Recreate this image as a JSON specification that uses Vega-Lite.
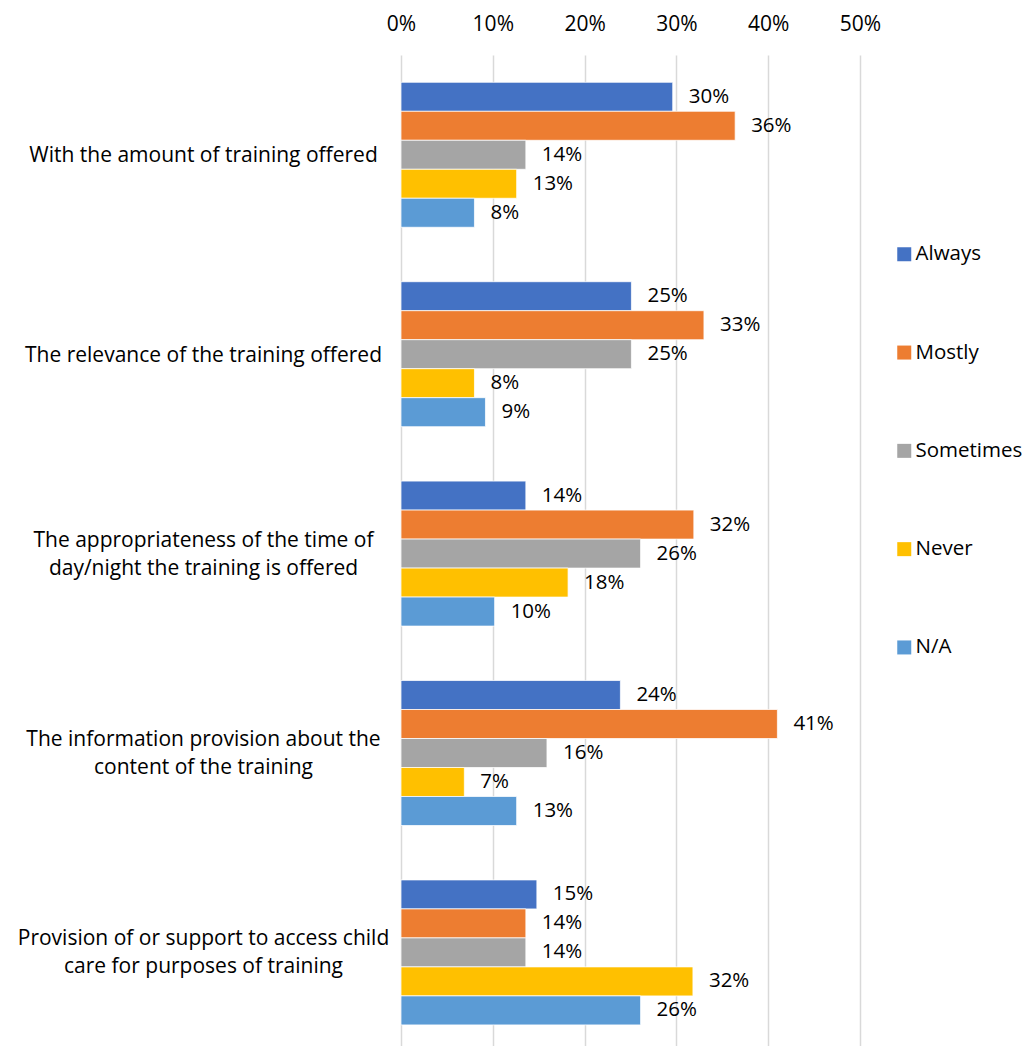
{
  "$schema": "https://vega.github.io/schema/vega-lite/v6.json",
  "width": 459,
  "height": 991,
  "autosize": "none",
  "padding": {"left": 401, "top": 55, "right": 169, "bottom": 0},
  "background": "white",
  "config": {"view": {"stroke": null}, "font": "Open Sans"},
  "data": {"values": [
    {"category": "With the amount of training offered", "series": "Always", "value": 0.296},
    {"category": "With the amount of training offered", "series": "Mostly", "value": 0.364},
    {"category": "With the amount of training offered", "series": "Sometimes", "value": 0.136},
    {"category": "With the amount of training offered", "series": "Never", "value": 0.126},
    {"category": "With the amount of training offered", "series": "N/A", "value": 0.080},
    {"category": "The relevance of the training offered", "series": "Always", "value": 0.251},
    {"category": "The relevance of the training offered", "series": "Mostly", "value": 0.330},
    {"category": "The relevance of the training offered", "series": "Sometimes", "value": 0.251},
    {"category": "The relevance of the training offered", "series": "Never", "value": 0.080},
    {"category": "The relevance of the training offered", "series": "N/A", "value": 0.092},
    {"category": "The appropriateness of the time of|day/night the training is offered", "series": "Always", "value": 0.136},
    {"category": "The appropriateness of the time of|day/night the training is offered", "series": "Mostly", "value": 0.319},
    {"category": "The appropriateness of the time of|day/night the training is offered", "series": "Sometimes", "value": 0.261},
    {"category": "The appropriateness of the time of|day/night the training is offered", "series": "Never", "value": 0.182},
    {"category": "The appropriateness of the time of|day/night the training is offered", "series": "N/A", "value": 0.102},
    {"category": "The information provision about the|content of the training", "series": "Always", "value": 0.239},
    {"category": "The information provision about the|content of the training", "series": "Mostly", "value": 0.410},
    {"category": "The information provision about the|content of the training", "series": "Sometimes", "value": 0.159},
    {"category": "The information provision about the|content of the training", "series": "Never", "value": 0.069},
    {"category": "The information provision about the|content of the training", "series": "N/A", "value": 0.126},
    {"category": "Provision of or support to access child|care for purposes of training", "series": "Always", "value": 0.148},
    {"category": "Provision of or support to access child|care for purposes of training", "series": "Mostly", "value": 0.136},
    {"category": "Provision of or support to access child|care for purposes of training", "series": "Sometimes", "value": 0.136},
    {"category": "Provision of or support to access child|care for purposes of training", "series": "Never", "value": 0.318},
    {"category": "Provision of or support to access child|care for purposes of training", "series": "N/A", "value": 0.261}
  ]},
  "encoding": {
    "y": {
      "field": "category", "type": "nominal", "sort": null,
      "scale": {"paddingInner": 0.273, "paddingOuter": 0.1214, "align": 0.564},
      "axis": {
        "title": null, "domain": false, "ticks": false, "tickSize": 0,
        "labelAlign": "center", "labelBaseline": "middle", "labelPadding": 198,
        "labelFontSize": 21, "labelLineHeight": 28, "labelLimit": 0,
        "labelColor": "#000000",
        "labelOffset": {"condition": {"test": "indexof(datum.value, '|') >= 0", "value": -13}, "value": 1.5},
        "labelExpr": "split(datum.label, '|')"
      }
    },
    "yOffset": {
      "field": "series", "type": "nominal",
      "sort": ["Always", "Mostly", "Sometimes", "Never", "N/A"],
      "scale": {"paddingInner": 0, "paddingOuter": 0}
    },
    "x": {
      "field": "value", "type": "quantitative",
      "scale": {"domain": [0, 0.5], "nice": false},
      "axis": {
        "orient": "top", "title": null, "values": [0, 0.1, 0.2, 0.3, 0.4, 0.5],
        "format": ".0%", "domain": false, "ticks": false, "tickSize": 0,
        "labelFlush": false,
        "labelPadding": 21, "labelFontSize": 21, "labelColor": "#000000",
        "grid": true, "gridColor": "#D9D9D9", "gridWidth": 1.5
      }
    }
  },
  "layer": [
    {
      "mark": {"type": "bar", "stroke": "white", "strokeWidth": 0.75},
      "encoding": {
        "color": {
          "field": "series", "type": "nominal",
          "sort": ["Always", "Mostly", "Sometimes", "Never", "N/A"],
          "scale": {
            "domain": ["Always", "Mostly", "Sometimes", "Never", "N/A"],
            "range": ["#4472C4", "#ED7D31", "#A5A5A5", "#FFC000", "#5B9BD5"]
          },
          "legend": {
            "title": null, "orient": "none", "legendX": 493, "legendY": 189,
            "symbolType": "square", "symbolSize": 196, "symbolStrokeWidth": 0,
            "labelFontSize": 20.5, "labelColor": "#000000", "labelOffset": 1,
            "rowPadding": 77.3, "padding": 0
          }
        }
      }
    },
    {
      "mark": {"type": "text", "align": "left", "baseline": "middle", "dx": 16, "fontSize": 20.5, "color": "#000000"},
      "encoding": {
        "text": {"field": "value", "type": "quantitative", "format": ".0%"}
      }
    }
  ]
}
